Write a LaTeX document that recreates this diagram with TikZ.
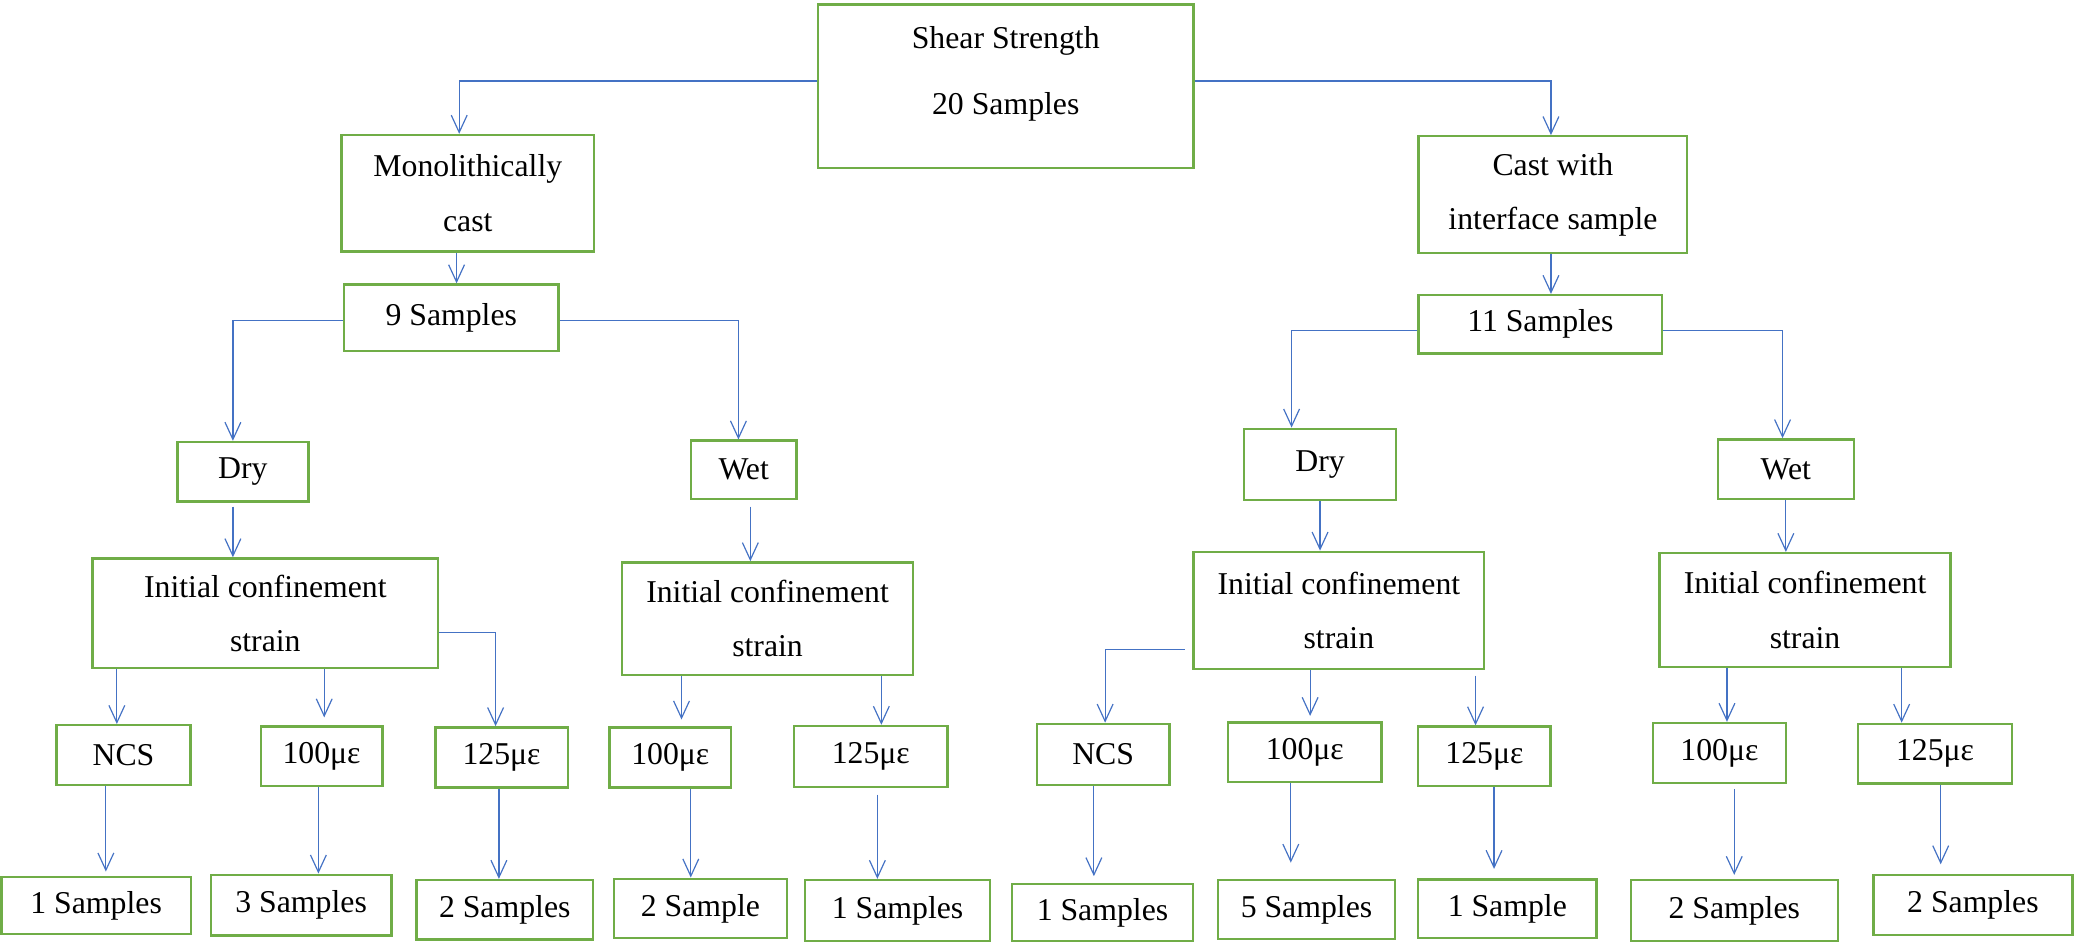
\documentclass[tikz,border=0pt]{standalone}
\usepackage{fontspec}
\setmainfont{Liberation Serif}
\usetikzlibrary{arrows.meta}
\definecolor{boxgreen}{HTML}{70AD47}
\definecolor{linkblue}{HTML}{4472C4}

\begin{document}
\begin{tikzpicture}[x=1pt,y=-1pt,
  box/.style={draw=boxgreen,line width=1.8pt,inner sep=0pt,align=center,font=\fontsize{24}{41}\selectfont},
  arr/.style={draw=linkblue,line width=0.9pt,-{Straight Barb[length=13pt,width=12pt]}}]
\useasboundingbox (0,0) rectangle (1568,712.6);
\node[box,minimum width=284,minimum height=123.5,font=\fontsize{24}{50}\selectfont] (top) at (760,65.25) {Shear Strength\\20 Samples\\[-26pt]\mbox{}};
\node[box,minimum width=191,minimum height=88] (mono) at (353.5,146) {Monolithically\\cast};
\node[box,minimum width=203,minimum height=88] (cast) at (1173.5,147) {Cast with\\interface sample};
\node[box,minimum width=162,minimum height=50] (s9) at (341,240) {9 Samples};
\node[box,minimum width=184,minimum height=44] (s11) at (1164,245) {11 Samples};
\node[box,minimum width=99,minimum height=45] (dryA) at (183.5,356.5) {Dry};
\node[box,minimum width=80,minimum height=44] (wetA) at (562,355) {Wet};
\node[box,minimum width=115,minimum height=54] (dryB) at (997.5,351) {Dry};
\node[box,minimum width=103,minimum height=45] (wetB) at (1349.5,354.5) {Wet};
\node[box,minimum width=261,minimum height=83] (icsA) at (200.5,463.5) {Initial confinement\\strain};
\node[box,minimum width=220,minimum height=85] (icsB) at (580,467.5) {Initial confinement\\strain};
\node[box,minimum width=219.5,minimum height=88.6] (icsC) at (1011.75,461.3) {Initial confinement\\strain};
\node[box,minimum width=220,minimum height=86] (icsD) at (1364,461) {Initial confinement\\strain};
\node[box,minimum width=101.4,minimum height=45] (ncsA) at (93.3,570.5) {NCS};
\node[box,minimum width=92,minimum height=45] (hA) at (243,571.5) {100με};
\node[box,minimum width=100,minimum height=45.4] (tA) at (379,572.3) {125με};
\node[box,minimum width=92,minimum height=45.4] (hB) at (506.5,572.3) {100με};
\node[box,minimum width=116,minimum height=46] (tB) at (658,571.6) {125με};
\node[box,minimum width=100,minimum height=46] (ncsB) at (833.6,570) {NCS};
\node[box,minimum width=116,minimum height=45] (hC) at (986,568.4) {100με};
\node[box,minimum width=100,minimum height=45] (tC) at (1121.7,571.5) {125με};
\node[box,minimum width=100.5,minimum height=45.3] (hD) at (1299.25,569) {100με};
\node[box,minimum width=116.5,minimum height=45] (tD) at (1462.25,569.5) {125με};
\node[box,minimum width=143.3,minimum height=43.5] (bA) at (72.65,684.25) {1 Samples};
\node[box,minimum width=136.3,minimum height=46] (bB) at (227.55,684) {3 Samples};
\node[box,minimum width=133.2,minimum height=45] (bC) at (381.4,687.5) {2 Samples};
\node[box,minimum width=130.5,minimum height=45] (bD) at (529.25,686.5) {2 Sample};
\node[box,minimum width=139.5,minimum height=46] (bE) at (678.25,688) {1 Samples};
\node[box,minimum width=137.2,minimum height=43] (bF) at (833.1,689.5) {1 Samples};
\node[box,minimum width=133.5,minimum height=44.8] (bG) at (987.25,687.2) {5 Samples};
\node[box,minimum width=135,minimum height=44.5] (bH) at (1139,686.75) {1 Sample};
\node[box,minimum width=156.5,minimum height=46] (bI) at (1310.5,688) {2 Samples};
\node[box,minimum width=150.3,minimum height=45.6] (bJ) at (1490.85,683.8) {2 Samples};
\draw[arr] ([yshift=4]top.west) -| ([xshift=-6.5]mono.north);
\draw[arr] ([yshift=4]top.east) -| ([xshift=-1.5]cast.north);
\draw[arr] ([xshift=4]s9.north |- mono.south) -- ([xshift=4]s9.north);
\draw[arr] ([yshift=-2]s9.west) -| ([xshift=-7.5]dryA.north);
\draw[arr] ([yshift=-2]s9.east) -| ([xshift=-4]wetA.north);
\draw[arr,shorten <=3pt] ([xshift=-7.5]dryA.south) -- ([xshift=-7.5]dryA.south |- icsA.north);
\draw[arr,shorten <=5pt] ([xshift=5]wetA.south) -- ([xshift=5]wetA.south |- icsB.north);
\draw[arr] ([xshift=-1.5]cast.south) -- ([xshift=-1.5]cast.south |- s11.north);
\draw[arr] ([yshift=-5]s11.west) -| ([xshift=-21.5]dryB.north);
\draw[arr] ([yshift=-5]s11.east) -| ([xshift=-2.5]wetB.north);
\draw[arr] (dryB.south) -- (dryB.south |- icsC.north);
\draw[arr] (wetB.south) -- (wetB.south |- icsD.north);
\draw[arr] ([xshift=-5]ncsA.north |- icsA.south) -- ([xshift=-5]ncsA.north);
\draw[arr,shorten >=6pt] ([xshift=2]hA.north |- icsA.south) -- ([xshift=2]hA.north);
\draw[arr] ([yshift=-14.5]icsA.east) -| ([xshift=-4.5]tA.north);
\draw[arr,shorten >=5pt] ([xshift=8.5]hB.north |- icsB.south) -- ([xshift=8.5]hB.north);
\draw[arr] ([xshift=8]tB.north |- icsB.south) -- ([xshift=8]tB.north);
\draw[arr,shorten <=6pt] ([yshift=-29.7]icsC.west) -| ([xshift=1.5]ncsB.north);
\draw[arr,shorten >=4pt] ([xshift=4]hC.north |- icsC.south) -- ([xshift=4]hC.north);
\draw[arr,shorten <=4pt] ([xshift=-6.7]tC.north |- icsC.south) -- ([xshift=-6.7]tC.north);
\draw[arr] ([xshift=5.75]hD.north |- icsD.south) -- ([xshift=5.75]hD.north);
\draw[arr] ([xshift=-25.25]tD.north |- icsD.south) -- ([xshift=-25.25]tD.north);
\draw[arr,shorten >=3pt] ([xshift=-13.3]ncsA.south) -- ([xshift=-13.3]ncsA.south |- bA.north);
\draw[arr] ([xshift=-2.4]hA.south) -- ([xshift=-2.4]hA.south |- bB.north);
\draw[arr] ([xshift=-2]tA.south) -- ([xshift=-2]tA.south |- bC.north);
\draw[arr] ([xshift=15.5]hB.south) -- ([xshift=15.5]hB.south |- bD.north);
\draw[arr,shorten <=5pt] ([xshift=5]tB.south) -- ([xshift=5]tB.south |- bE.north);
\draw[arr,shorten >=5pt] ([xshift=-7]ncsB.south) -- ([xshift=-7]ncsB.south |- bF.north);
\draw[arr,shorten >=12pt] ([xshift=-10.6]hC.south) -- ([xshift=-10.6]hC.south |- bG.north);
\draw[arr,shorten >=7pt] ([xshift=7.3]tC.south) -- ([xshift=7.3]tC.south |- bH.north);
\draw[arr,shorten <=4pt,shorten >=3pt] ([xshift=11.25]hD.south) -- ([xshift=11.25]hD.south |- bI.north);
\draw[arr,shorten >=7pt] ([xshift=4.25]tD.south) -- ([xshift=4.25]tD.south |- bJ.north);
\end{tikzpicture}
\end{document}
